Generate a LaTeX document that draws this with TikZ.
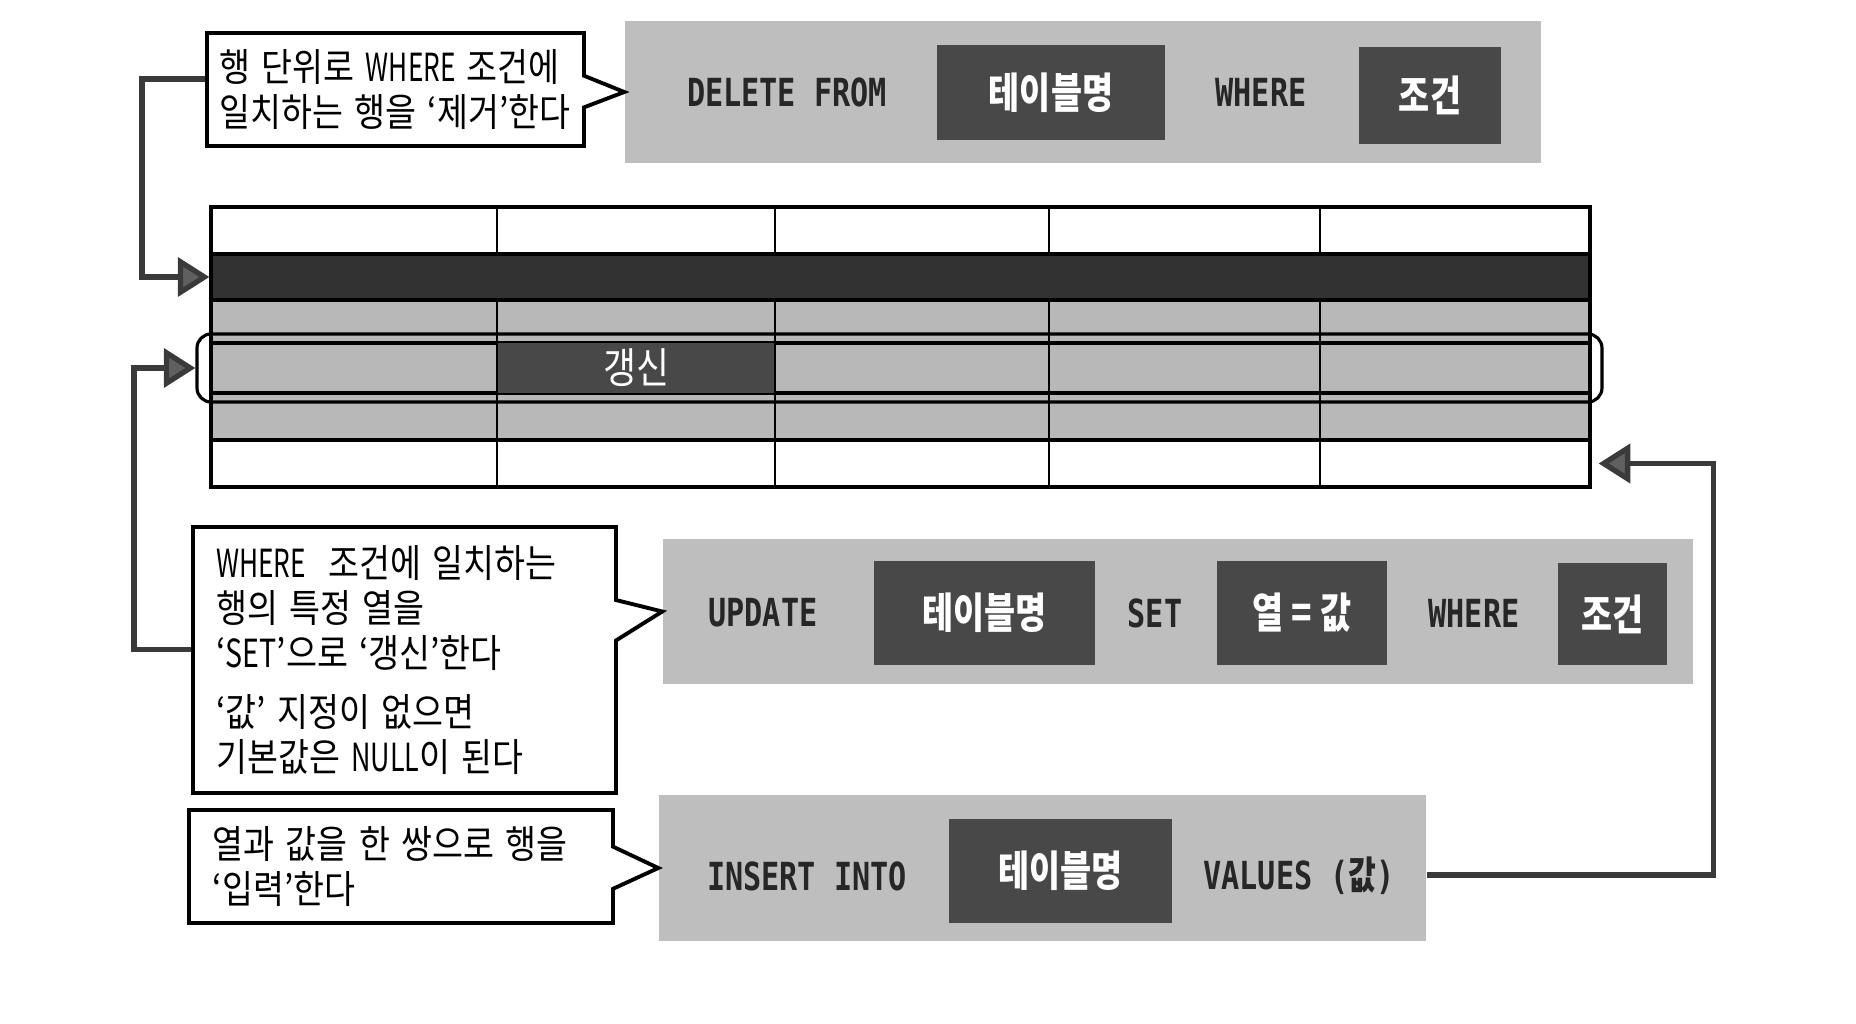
\documentclass[tikz,border=0pt]{standalone}
\usepackage{fontspec}
\setmainfont{Noto Sans CJK KR}
\newfontfamily\kwfont{DejaVu Sans Mono}
\usetikzlibrary{arrows.meta, fit, shapes.callouts}

\definecolor{bargray}{RGB}{190,190,190}
\definecolor{rowgray}{RGB}{184,184,184}
\definecolor{boxdark}{RGB}{72,72,72}
\definecolor{rowdark}{RGB}{50,50,50}
\definecolor{linkgray}{RGB}{58,58,58}
\definecolor{headgray}{RGB}{96,96,96}

% condensed text
\newcommand{\slim}[2][0.87]{\scalebox{#1}[1]{#2}}

\begin{document}
\begin{tikzpicture}[x=0.01cm, y=-0.01cm,
    px size/.style 2 args={minimum width=#1*0.01cm, minimum height=#2*0.01cm},
    bar/.style={fill=bargray, inner sep=0pt},
    dbox/.style={fill=boxdark, inner sep=0pt, text=white, font=\fontsize{12}{14}\selectfont\bfseries},
    kw/.style={text=black!85, inner sep=0pt, font=\kwfont\fontsize{11}{13}\selectfont\bfseries},
    note/.style={rectangle callout, draw, line width=1.1pt, fill=white, inner sep=0pt, align=left, font=\fontsize{11}{12.8}\selectfont},
    trow/.style={draw, line width=0.9pt, inner sep=0pt},
    link/.style={draw=linkgray, line width=1.5pt, -{Triangle[length=9pt, width=11pt, fill=headgray]}}
]
    \useasboundingbox (0,0) rectangle (1856,1024);

    % DELETE statement
    \node[bar, fit={(625,21) (1541,163)}] (delbar) {};
    \node[kw] (delkw) at (787,92) {\slim[0.78]{DELETE FROM}};
    \node[dbox, px size={228}{95}] (deltbl) at (1051,92.5) {\slim[0.8]{테이블명}};
    \node[kw] (delwhere) at (1261,92) {\slim[0.78]{WHERE}};
    \node[dbox, px size={142}{97}] (delcond) at (1430,95.5) {\slim[0.8]{조건}};

    % UPDATE statement
    \node[bar, fit={(663,539) (1693,684)}] (updbar) {};
    \node[kw] (updkw) at (763,613) {\slim[0.78]{UPDATE}};
    \node[dbox, px size={221}{104}] (updtbl) at (984.5,613) {\slim[0.8]{테이블명}};
    \node[kw] (updset) at (1155,613) {\slim[0.78]{SET}};
    \node[dbox, px size={170}{104}] (updval) at (1302,613) {\slim[0.8]{열 = 값}};
    \node[kw] (updwhere) at (1474,613) {\slim[0.78]{WHERE}};
    \node[dbox, px size={109}{102}] (updcond) at (1612.5,614) {\slim[0.8]{조건}};

    % INSERT statement
    \node[bar, fit={(659,795) (1426,941)}] (insbar) {};
    \node[kw] (inskw) at (807,876) {\slim[0.78]{INSERT INTO}};
    \node[dbox, px size={223}{104}] (instbl) at (1060.5,871) {\slim[0.8]{테이블명}};
    \node[kw] (insval) at (1299,876) {\slim[0.78]{VALUES ({\rmfamily 값})}};

    % Notes
    \node[note, px size={377}{113}, text width=100pt, callout pointer width=9pt,
          callout absolute pointer={(delbar.west)}] (delnote) at (395.5,89.5)
        {\slim{행 단위로 \slim[0.78]{WHERE} 조건에}\\\slim{일치하는 행을 ‘제거’한다}};
    \node[note, px size={423}{266}, text width=107pt, callout pointer width=11.5pt,
          callout absolute pointer={(updbar.west)}] (updnote) at (404.5,660)
        {\slim{\slim[0.78]{WHERE}~ 조건에 일치하는}\\\slim{행의 특정 열을}\\\slim{‘\slim[0.85]{SET}’으로 ‘갱신’한다}\\[4pt]
         \slim{‘값’ 지정이 없으면}\\\slim{기본값은 \slim[0.8]{NULL}이 된다}};
    \node[note, px size={424}{113}, text width=107pt, callout pointer width=12pt,
          callout absolute pointer={(insbar.west)}] (insnote) at (401,866.5)
        {\slim{열과 값을 한 쌍으로 행을}\\\slim{‘입력’한다}};

    % Table
    \node[trow, fill=white, fit={(211,207) (1590,254)}] (row1) {};
    \node[trow, fill=rowdark, fit={(211,254) (1590,300)}] (row2) {};
    \node[trow, fill=rowgray, fit={(211,300) (1590,343)}] (row3) {};
    \node[trow, fill=rowgray, fit={(211,343) (1590,393)}] (row4) {};
    \node[trow, fill=rowgray, fit={(211,393) (1590,440)}] (row5) {};
    \node[trow, fill=white, fit={(211,440) (1590,487)}] (row6) {};
    \node[dbox, font=\fontsize{12}{14}\selectfont, px size={278}{50}] (upcell) at (636,368) {\slim[0.85]{갱신}};
    \foreach \cx in {497,775,1049,1320}
        \draw[line width=0.5pt] (\cx,207) -- (\cx,254) (\cx,300) -- (\cx,487);
    \node[draw, line width=0.9pt, rounded corners=4pt, inner sep=0pt, fit={(197,334) (1602,402)}] (selrow) {};

    % Links
    \draw[link] ([yshift=3pt]delnote.west) -- ++(-63,0) |- (row2.west);
    \draw[link] ([yshift=3pt]updnote.west) -- ++(-57,0) |- (selrow.west);
    \draw[link] ([yshift=-2pt]insbar.east) -- ++(287,0) |- ([xshift=2pt]row6.east);

\end{tikzpicture}
\end{document}
